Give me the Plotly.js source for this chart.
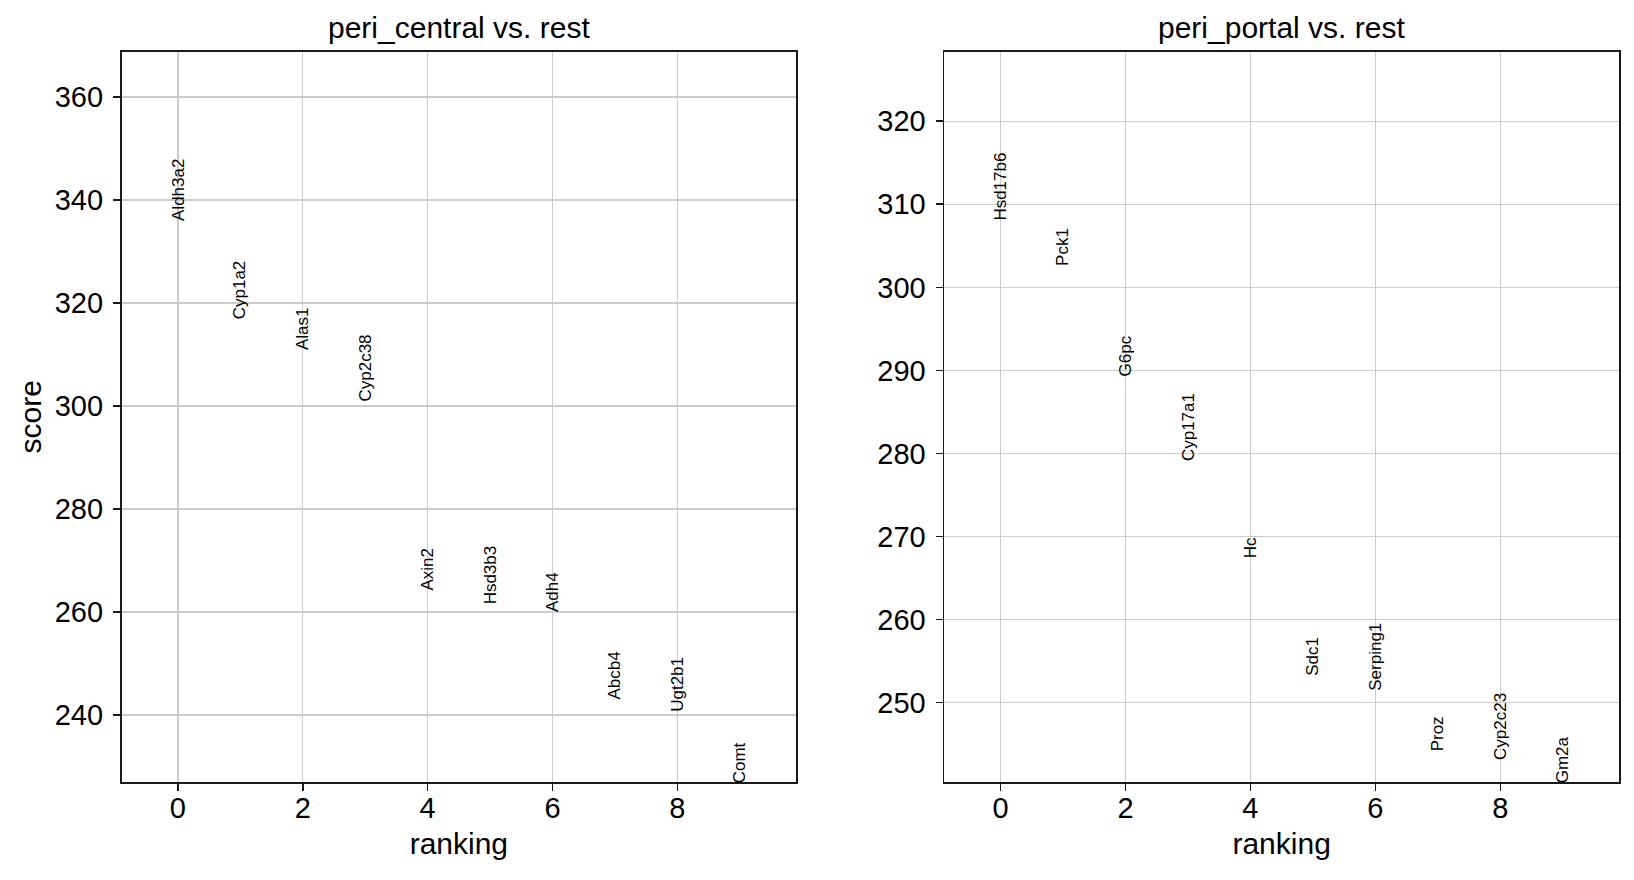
<!DOCTYPE html>
<html>
<head>
<meta charset="utf-8">
<script src="https://cdn.plot.ly/plotly-3.0.1.min.js"></script>
<style>html,body{margin:0;padding:0;background:#fff;}#chart{width:1634px;height:880px;}</style>
</head>
<body>
<div id="chart"></div>
<script>
// ---- data ----
var centralGenes = ["Aldh3a2","Cyp1a2","Alas1","Cyp2c38","Axin2","Hsd3b3","Adh4","Abcb4","Ugt2b1","Comt"];
var centralScores = [336.1, 317.0, 311.1, 301.0, 264.4, 261.6, 260.1, 243.2, 240.8, 227.0];
var portalGenes = ["Hsd17b6","Pck1","G6pc","Cyp17a1","Hc","Sdc1","Serping1","Proz","Cyp2c23","Gm2a"];
var portalScores = [308.1, 302.7, 289.4, 279.2, 267.5, 253.4, 251.6, 244.3, 243.2, 240.45];
var rankings = [0,1,2,3,4,5,6,7,8,9];
var panelTitles = ["peri_central vs. rest", "peri_portal vs. rest"];
var xTicks = [0,2,4,6,8];
var centralYTicks = [240,260,280,300,320,340,360];
var portalYTicks = [250,260,270,280,290,300,310,320];

var W = 1634, H = 880;
var FONT = "Liberation Sans, Arial, Helvetica, sans-serif";

function yRange(s){
  var mn = Math.min.apply(null, s), mx = Math.max.apply(null, s);
  return [mn, mx + 0.3*(mx-mn)];
}

var traces = [
  {x: rankings, y: centralScores, text: centralGenes, type: "scatter", mode: "markers",
   marker: {opacity: 0}, xaxis: "x", yaxis: "y", hoverinfo: "text+y", showlegend: false},
  {x: rankings, y: portalScores, text: portalGenes, type: "scatter", mode: "markers",
   marker: {opacity: 0}, xaxis: "x2", yaxis: "y2", hoverinfo: "text+y", showlegend: false}
];

var annotations = [];
function addLabels(genes, scores, xr, yr){
  for (var i=0;i<genes.length;i++){
    annotations.push({x: rankings[i], y: scores[i], xref: xr, yref: yr, text: genes[i],
      showarrow: false, textangle: -90, xanchor: "center", yanchor: "bottom",
      borderpad: 0, yshift: -2,
      font: {family: FONT, size: 17, color: "#000"}});
  }
}
addLabels(centralGenes, centralScores, "x", "y");
addLabels(portalGenes, portalScores, "x2", "y2");

var xd1 = [121.7/W, 796/W], xd2 = [944.3/W, 1619/W];
var yd = [1-782/H, 1-51.5/H];
annotations.push({xref:"paper", yref:"paper", x:(xd1[0]+xd1[1])/2, y:yd[1], xanchor:"center", yanchor:"bottom",
  yshift: 5, showarrow:false, text: panelTitles[0], font:{family:FONT, size:30, color:"#000"}});
annotations.push({xref:"paper", yref:"paper", x:(xd2[0]+xd2[1])/2, y:yd[1], xanchor:"center", yanchor:"bottom",
  yshift: 5, showarrow:false, text: panelTitles[1], font:{family:FONT, size:30, color:"#000"}});

function xaxis(dom, anchor){
  return {domain: dom, anchor: anchor, range: [-0.9, 9.9], tickvals: xTicks,
    showgrid: true, gridcolor: "#cccccc", gridwidth: 1.3, zeroline: false,
    showline: true, mirror: true, linecolor: "#1a1a1a", linewidth: 1.8,
    ticks: "outside", ticklen: 7, tickwidth: 1.6, tickcolor: "#1a1a1a", ticklabelstandoff: -8,
    tickfont: {family: FONT, size: 29, color: "#000"}, automargin: false,
    title: {text: "ranking", font: {family: FONT, size: 30, color: "#000"}, standoff: 10}};
}
function yaxis(dom, anchor, rng, ticks, title){
  var a = {domain: dom, anchor: anchor, range: rng, tickvals: ticks,
    showgrid: true, gridcolor: "#cccccc", gridwidth: 1.3, zeroline: false,
    showline: true, mirror: true, linecolor: "#1a1a1a", linewidth: 1.8,
    ticks: "outside", ticklen: 7, tickwidth: 1.6, tickcolor: "#1a1a1a", ticklabelstandoff: 4,
    tickfont: {family: FONT, size: 29, color: "#000"}, automargin: false};
  if (title) a.title = {text: title, font: {family: FONT, size: 30, color: "#000"}, standoff: 4};
  return a;
}

var layout = {
  width: W, height: H,
  margin: {l:0, r:0, t:0, b:0, pad:0},
  paper_bgcolor: "#fff", plot_bgcolor: "#fff",
  showlegend: false,
  xaxis: xaxis(xd1, "y"),
  yaxis: yaxis(yd, "x", yRange(centralScores), centralYTicks, "score"),
  xaxis2: xaxis(xd2, "y2"),
  yaxis2: yaxis(yd, "x2", yRange(portalScores), portalYTicks, null),
  annotations: annotations
};

Plotly.newPlot("chart", traces, layout, {displayModeBar: false, staticPlot: true});
</script>
</body>
</html>
